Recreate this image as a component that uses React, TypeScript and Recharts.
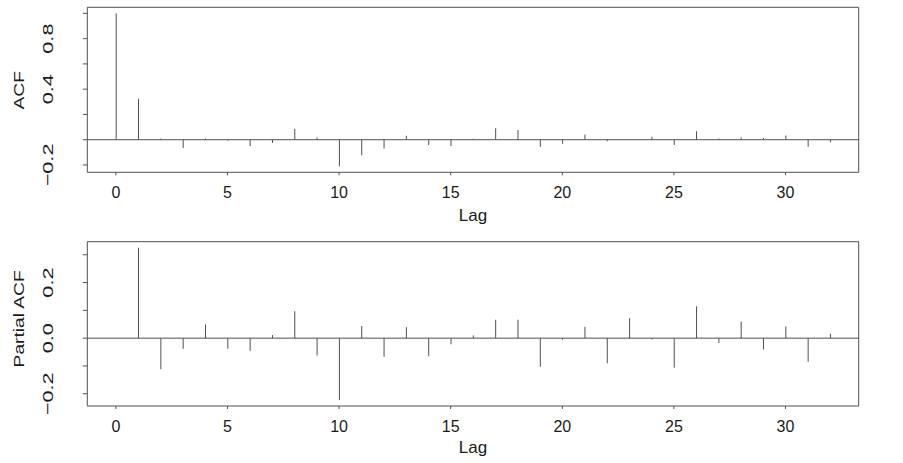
import React from 'react';
import { ComposedChart, Bar, XAxis, YAxis, ReferenceLine, ReferenceArea } from 'recharts';

// ---- data ----
const LAGS = [0, 1, 2, 3, 4, 5, 6, 7, 8, 9, 10, 11, 12, 13, 14, 15, 16, 17, 18, 19, 20, 21, 22, 23, 24, 25, 26, 27, 28, 29, 30, 31, 32];
const ACF_VALUES = [1.0, 0.325, 0.01, -0.066, 0.01, -0.008, -0.05, -0.026, 0.087, 0.018, -0.21, -0.124, -0.069, 0.032, -0.042, -0.05, 0.008, 0.09, 0.077, -0.058, -0.032, 0.042, -0.013, -0.003, 0.024, -0.042, 0.066, 0.01, 0.018, 0.013, 0.034, -0.056, -0.021];
const PACF_VALUES = [null, 0.325, -0.112, -0.038, 0.049, -0.038, -0.045, 0.011, 0.097, -0.062, -0.222, 0.044, -0.067, 0.039, -0.065, -0.022, 0.01, 0.066, 0.066, -0.103, -0.006, 0.041, -0.09, 0.072, -0.005, -0.106, 0.115, -0.017, 0.06, -0.041, 0.042, -0.085, 0.016];
const X_TICKS = [0, 5, 10, 15, 20, 25, 30];
const ACF_TICKS = [-0.2, 0, 0.2, 0.4, 0.6, 0.8, 1.0];
const ACF_TICK_LABELS = [-0.2, 0.4, 0.8];
const PACF_TICKS = [-0.2, -0.1, 0, 0.1, 0.2, 0.3];
const PACF_TICK_LABELS = [-0.2, 0, 0.2];
const X_LABEL = 'Lag';
const ACF_LABEL = 'ACF';
const PACF_LABEL = 'Partial ACF';

const X_DOMAIN: [number, number] = [-1.28, 33.28];
const ACF_DOMAIN: [number, number] = [-0.258, 1.048];
const PACF_DOMAIN: [number, number] = [-0.244, 0.347];

const acfData = LAGS.map((lag, i) => ({ lag, v: ACF_VALUES[i] }));
const pacfData = LAGS.map((lag, i) => ({ lag, v: PACF_VALUES[i] }));

const FONT = '"Liberation Sans", Arial, Helvetica, sans-serif';
const TEXT = '#1a1a1a';
const LINE = '#505050';

const fmt = (v: number) => (v < -1e-9 ? '\u2212' : '') + Math.abs(v).toFixed(1);

const makeYTick = (labeled: number[]) => (props: any) => {
  const { y, payload } = props;
  const v = payload.value;
  if (!labeled.some((l) => Math.abs(l - v) < 1e-9)) return <g />;
  return (
    <text
      transform={`translate(53.3, ${y}) rotate(-90) scale(1.4, 1)`}
      textAnchor="middle"
      fontSize={15.5}
      fontFamily={FONT}
      fill={TEXT}
    >
      {fmt(v)}
    </text>
  );
};

interface PanelProps {
  data: { lag: number; v: number | null }[];
  yDomain: [number, number];
  yTicks: number[];
  yLabeled: number[];
  yLabel: string;
  height: number;
  mTop: number;
  mBottom: number;
  lagBaseline: number;
  yLabelShift: number;
}

function Panel(p: PanelProps) {
  return (
    <ComposedChart
      width={903}
      height={p.height}
      data={p.data}
      margin={{ top: p.mTop, right: 44.3, bottom: p.mBottom, left: 27.3 }}
    >
      <XAxis
        dataKey="lag"
        type="number"
        domain={X_DOMAIN}
        ticks={X_TICKS}
        allowDataOverflow
        axisLine={false}
        tickLine={{ stroke: LINE }}
        tickSize={3}
        tickMargin={11.7}
        height={50}
        tick={{ fontSize: 16, fill: TEXT, fontFamily: FONT }}
        label={{
          content: (lp: any) => {
            const vb = lp.viewBox;
            return (
              <text
                x={vb.x + vb.width / 2}
                y={vb.y + p.lagBaseline}
                textAnchor="middle"
                fontSize={17}
                fontFamily={FONT}
                fill={TEXT}
              >
                {X_LABEL}
              </text>
            );
          },
        }}
      />
      <YAxis
        type="number"
        domain={p.yDomain}
        ticks={p.yTicks}
        allowDataOverflow
        width={60}
        axisLine={false}
        tickLine={{ stroke: LINE }}
        tickSize={4.5}
        tick={makeYTick(p.yLabeled)}
        label={{
          content: (lp: any) => {
            const vb = lp.viewBox;
            const cy = vb.y + vb.height / 2 + p.yLabelShift;
            return (
              <text
                transform={`translate(24.3, ${cy}) rotate(-90) scale(1.24, 1)`}
                textAnchor="middle"
                fontSize={15.5}
                fontFamily={FONT}
                fill={TEXT}
              >
                {p.yLabel}
              </text>
            );
          },
        }}
      />
      <ReferenceLine y={0} stroke={LINE} strokeWidth={1} ifOverflow="visible" />
      <Bar dataKey="v" barSize={1} fill={LINE} isAnimationActive={false} />
      <ReferenceArea
        x1={X_DOMAIN[0]}
        x2={X_DOMAIN[1]}
        y1={p.yDomain[0]}
        y2={p.yDomain[1]}
        fill="none"
        fillOpacity={0}
        stroke={LINE}
        strokeWidth={1}
        ifOverflow="visible"
      />
    </ComposedChart>
  );
}

export default function App() {
  return (
    <div style={{ position: 'absolute', left: 0, top: 0, width: 903, height: 463, background: '#fff' }}>
      <Panel
        data={acfData}
        yDomain={ACF_DOMAIN}
        yTicks={ACF_TICKS}
        yLabeled={ACF_TICK_LABELS}
        yLabel={ACF_LABEL}
        height={231}
        mTop={7.3}
        mBottom={8.7}
        lagBaseline={48.7}
        yLabelShift={0.5}
      />
      <Panel
        data={pacfData}
        yDomain={PACF_DOMAIN}
        yTicks={PACF_TICKS}
        yLabeled={PACF_TICK_LABELS}
        yLabel={PACF_LABEL}
        height={232}
        mTop={10.7}
        mBottom={7}
        lagBaseline={46.7}
        yLabelShift={-5}
      />
    </div>
  );
}
